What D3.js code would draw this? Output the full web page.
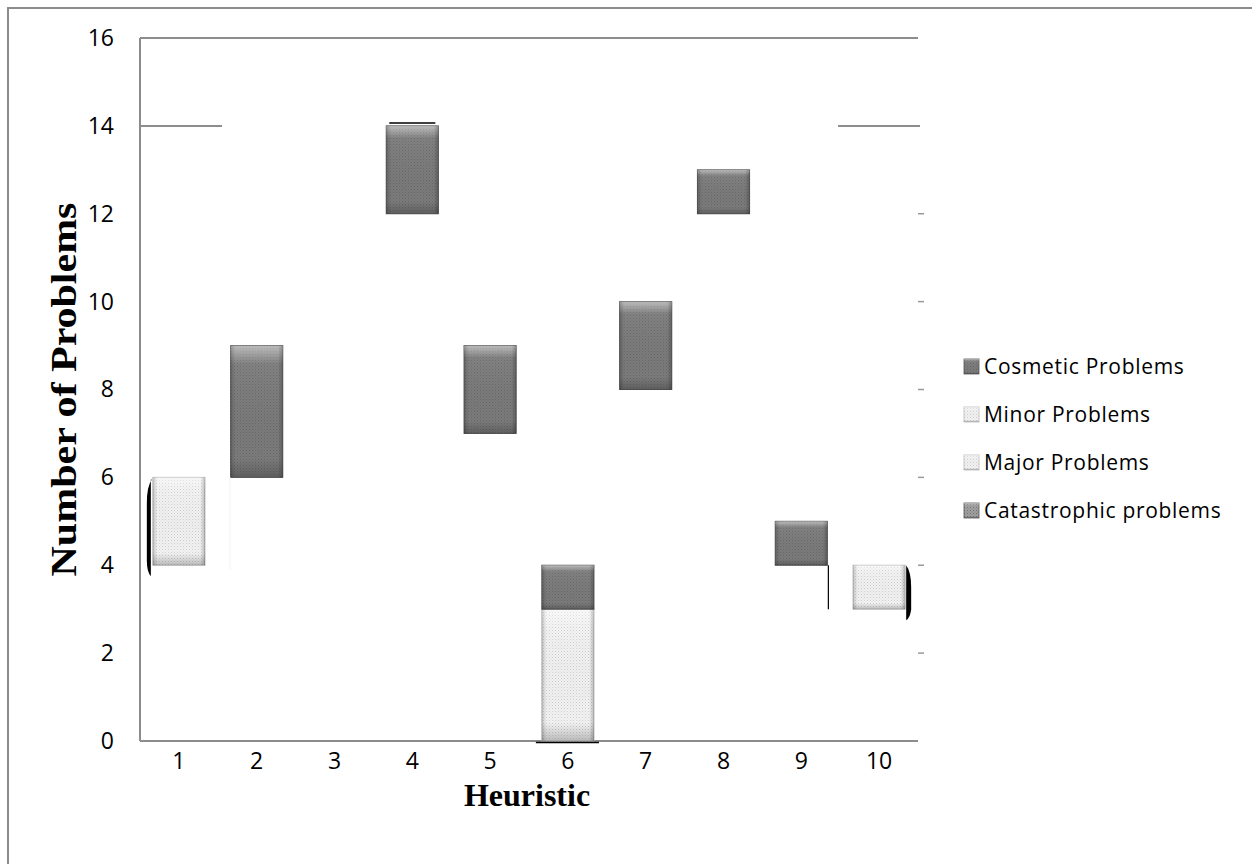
<!DOCTYPE html>
<html>
<head>
<meta charset="utf-8">
<script src="https://cdn.jsdelivr.net/npm/d3@7"></script>
<style>
body { margin: 0; background: #fff; }
.tick text { font-family: "Open Sans", "Noto Sans", sans-serif; font-size: 23px; fill: #000; }
.axisTitle { font-family: "Liberation Serif", "DejaVu Serif", serif; font-weight: bold; }
.legendText { font-family: "Open Sans", "Noto Sans", sans-serif; font-size: 21px; letter-spacing: 0.7px; }
</style>
</head>
<body>
<div id="chart"></div>
<script>

var width = 1252,
height = 864;

// data (floating stacked bars)
var heuristics = ["1", "2", "3", "4", "5", "6", "7", "8", "9", "10"];
var offsetBase   = [4, 6, 0, 12, 7, 0, 8, 12, 4, 3];
var catastrophic = [0, 0, 0, 0, 0, 0, 0, 0, 0, 0];
var major        = [2, 0, 0, 0, 0, 0, 0, 0, 0, 1];
var minor        = [0, 0, 0, 0, 0, 3, 0, 0, 0, 0];
var cosmetic     = [0, 3, 0, 2, 2, 1, 2, 1, 1, 0];
var yTicks = [0, 2, 4, 6, 8, 10, 12, 14, 16];
var legendNames = ["Cosmetic Problems", "Minor Problems", "Major Problems", "Catastrophic problems"];

var rows = heuristics.map(function(h, i) {
  return { h: h, base: offsetBase[i], catastrophic: catastrophic[i], major: major[i], minor: minor[i], cosmetic: cosmetic[i] };
});

var keys = ["base", "catastrophic", "major", "minor", "cosmetic"];
var series = d3.stack().keys(keys)(rows);

var margin = { left: 140, top: 38, right: 918, bottom: 741 };

var x = d3.scaleBand()
.domain(heuristics)
.range([margin.left, margin.right])
.paddingInner(0.33)
.paddingOuter(0.165);

var y = d3.scaleLinear()
.domain([0, 16])
.range([margin.bottom, margin.top]);

var svg = d3.select("#chart")
.append("svg")
.attr("width", width)
.attr("height", height);

var defs = svg.append("defs");

// dotted texture patterns
function dots(id, bg, dot) {
  var p = defs.append("pattern")
  .attr("id", id)
  .attr("width", 3).attr("height", 3)
  .attr("patternUnits", "userSpaceOnUse");
  p.append("rect").attr("width", 3).attr("height", 3).attr("fill", bg);
  p.append("rect").attr("width", 1).attr("height", 1).attr("fill", dot);
  p.append("rect").attr("x", 1.5).attr("y", 1.5).attr("width", 1).attr("height", 1).attr("fill", dot).attr("opacity", 0.6);
}
dots("darkDots", "#7b7b7b", "#666");
dots("lightDots", "#f3f3f3", "#cdcdcd");
dots("catDots", "#a0a0a0", "#707070");

// bevel shading
var vg = defs.append("linearGradient").attr("id", "bevelV")
.attr("x1", "0%").attr("y1", "0%").attr("x2", "0%").attr("y2", "100%");
vg.append("stop").attr("offset", "0%").attr("stop-color", "#fff").attr("stop-opacity", 0.5);
vg.append("stop").attr("offset", "14%").attr("stop-color", "#fff").attr("stop-opacity", 0.05);
vg.append("stop").attr("offset", "86%").attr("stop-color", "#000").attr("stop-opacity", 0.0);
vg.append("stop").attr("offset", "100%").attr("stop-color", "#000").attr("stop-opacity", 0.22);

var hg = defs.append("linearGradient").attr("id", "bevelH")
.attr("x1", "0%").attr("y1", "0%").attr("x2", "100%").attr("y2", "0%");
hg.append("stop").attr("offset", "0%").attr("stop-color", "#000").attr("stop-opacity", 0.18);
hg.append("stop").attr("offset", "9%").attr("stop-color", "#000").attr("stop-opacity", 0.0);
hg.append("stop").attr("offset", "91%").attr("stop-color", "#000").attr("stop-opacity", 0.0);
hg.append("stop").attr("offset", "100%").attr("stop-color", "#000").attr("stop-opacity", 0.22);

var fills = { catastrophic: "url(#catDots)", major: "url(#lightDots)", minor: "url(#lightDots)", cosmetic: "url(#darkDots)" };
var strokes = { catastrophic: "#666", major: "#bbb", minor: "#bbb", cosmetic: "#555" };

// outer frame
svg.append("rect")
.attr("x", 8).attr("y", 8)
.attr("width", width + 10).attr("height", height + 10)
.attr("fill", "none")
.attr("stroke", "#8c8c8c")
.attr("stroke-width", 2);

// axis lines
var axisCol = "#8c8c8c";
svg.append("line")
.attr("x1", margin.left).attr("x2", margin.left)
.attr("y1", y(16)).attr("y2", y(0))
.attr("stroke", axisCol).attr("stroke-width", 2);
svg.append("line")
.attr("x1", margin.left).attr("x2", margin.right)
.attr("y1", y(0)).attr("y2", y(0))
.attr("stroke", axisCol).attr("stroke-width", 2);
svg.append("line")
.attr("x1", margin.left).attr("x2", margin.right)
.attr("y1", y(16)).attr("y2", y(16))
.attr("stroke", axisCol).attr("stroke-width", 2);

// partial gridline at 14
svg.append("line")
.attr("x1", margin.left).attr("x2", x("1") + x.bandwidth() + 17)
.attr("y1", y(14)).attr("y2", y(14))
.attr("stroke", axisCol).attr("stroke-width", 2);
svg.append("line")
.attr("x1", x("10") - 15).attr("x2", margin.right + 2)
.attr("y1", y(14)).attr("y2", y(14))
.attr("stroke", axisCol).attr("stroke-width", 2);

// small right-edge ticks
svg.selectAll(".rtick")
.data([2, 4, 6, 8, 10, 12])
.enter().append("line")
.attr("class", "rtick")
.attr("x1", margin.right).attr("x2", margin.right + 6)
.attr("y1", function(d) { return y(d); })
.attr("y2", function(d) { return y(d); })
.attr("stroke", "#999").attr("stroke-width", 1.5);

// y axis
var yAxis = d3.axisLeft(y)
.tickValues(yTicks)
.tickSize(0)
.tickPadding(26);
svg.append("g")
.attr("transform", "translate(" + margin.left + ",0)")
.call(yAxis)
.call(function(g) { g.select(".domain").remove(); });

// x axis
var xAxis = d3.axisBottom(x)
.tickSize(0)
.tickPadding(12);
svg.append("g")
.attr("transform", "translate(0," + y(0) + ")")
.call(xAxis)
.call(function(g) { g.select(".domain").remove(); });

// bars
var layers = svg.selectAll(".layer")
.data(series.filter(function(s) { return s.key != "base"; }))
.enter().append("g")
.attr("class", "layer");

layers.each(function(s) {
  var g = d3.select(this);
  var segs = s.filter(function(d) { return d[1] - d[0] > 0; });
  var bars = g.selectAll("g.seg")
  .data(segs)
  .enter().append("g")
  .attr("class", "seg");
  bars.append("rect")
  .attr("x", function(d) { return x(d.data.h); })
  .attr("y", function(d) { return y(d[1]); })
  .attr("width", x.bandwidth())
  .attr("height", function(d) { return y(d[0]) - y(d[1]); })
  .attr("fill", fills[s.key])
  .attr("stroke", strokes[s.key])
  .attr("stroke-width", 1);
  bars.append("rect")
  .attr("x", function(d) { return x(d.data.h); })
  .attr("y", function(d) { return y(d[1]); })
  .attr("width", x.bandwidth())
  .attr("height", function(d) { return y(d[0]) - y(d[1]); })
  .attr("fill", "url(#bevelV)");
  bars.append("rect")
  .attr("x", function(d) { return x(d.data.h); })
  .attr("y", function(d) { return y(d[1]); })
  .attr("width", x.bandwidth())
  .attr("height", function(d) { return y(d[0]) - y(d[1]); })
  .attr("fill", "url(#bevelH)");
});

// stray rendering marks around some bars
var x1 = x("1"), x10 = x("10"), bw = x.bandwidth();
svg.append("path")
.attr("d", "M" + (x1 - 1) + "," + y(5.95) + " Q" + (x1 - 6) + "," + y(5.8) + " " + (x1 - 6) + "," + y(5.4) +
  " L" + (x1 - 6) + "," + y(4.1) + " Q" + (x1 - 6) + "," + y(3.85) + " " + (x1 - 2) + "," + y(3.75) +
  " L" + (x1 - 2) + "," + y(5.95) + "Z")
.attr("fill", "#000");
svg.append("line")
.attr("x1", x1 + bw + 25).attr("x2", x1 + bw + 25)
.attr("y1", y(6)).attr("y2", y(3.9))
.attr("stroke", "#f2f2f2").attr("stroke-width", 1);
svg.append("path")
.attr("d", "M" + (x10 + bw + 1) + "," + y(4) + " Q" + (x10 + bw + 6) + "," + y(3.85) + " " + (x10 + bw + 6) + "," + y(3.5) +
  " L" + (x10 + bw + 6) + "," + y(3.0) + " Q" + (x10 + bw + 5) + "," + y(2.8) + " " + (x10 + bw + 1) + "," + y(2.75) + "Z")
.attr("fill", "#000");
svg.append("line")
.attr("x1", x("4") + 3).attr("x2", x("4") + bw - 3)
.attr("y1", y(14) - 3).attr("y2", y(14) - 3)
.attr("stroke", "#000").attr("stroke-width", 1.5);
svg.append("line")
.attr("x1", x("6") - 6).attr("x2", x("6") + bw + 5)
.attr("y1", y(0) + 1.5).attr("y2", y(0) + 1.5)
.attr("stroke", "#000").attr("stroke-width", 1.5);
svg.append("line")
.attr("x1", x("9") + bw + 1).attr("x2", x("9") + bw + 1)
.attr("y1", y(4)).attr("y2", y(3))
.attr("stroke", "#000").attr("stroke-width", 1.2);

// axis titles
svg.append("text")
.attr("class", "axisTitle")
.attr("text-anchor", "middle")
.attr("font-size", 35)
.attr("transform", "translate(76," + ((y(0) + y(16)) / 2) + ") rotate(-90) scale(1.2,1)")
.text("Number of Problems");

svg.append("text")
.attr("class", "axisTitle")
.attr("text-anchor", "middle")
.attr("font-size", 32)
.attr("x", (margin.left + margin.right) / 2 - 2)
.attr("y", 806)
.text("Heuristic");

// legend
var legendFills = ["url(#darkDots)", "url(#lightDots)", "url(#lightDots)", "url(#catDots)"];
var legend = svg.append("g")
.attr("transform", "translate(964,366)");

var items = legend.selectAll(".item")
.data(legendNames)
.enter().append("g")
.attr("class", "item")
.attr("transform", function(d, i) { return "translate(0," + (i * 48) + ")"; });

items.append("rect")
.attr("x", 0).attr("y", -7)
.attr("width", 15).attr("height", 15)
.attr("fill", function(d, i) { return legendFills[i]; })
.attr("stroke", function(d, i) { return i == 0 || i == 3 ? "#555" : "#bbb"; })
.attr("stroke-width", 0.8);
items.append("rect")
.attr("x", 0).attr("y", -7)
.attr("width", 15).attr("height", 15)
.attr("fill", "url(#bevelV)");

items.append("text")
.attr("class", "legendText")
.attr("x", 20)
.attr("y", 1)
.attr("dy", "0.35em")
.text(function(d) { return d; });

</script>
</body>
</html>
